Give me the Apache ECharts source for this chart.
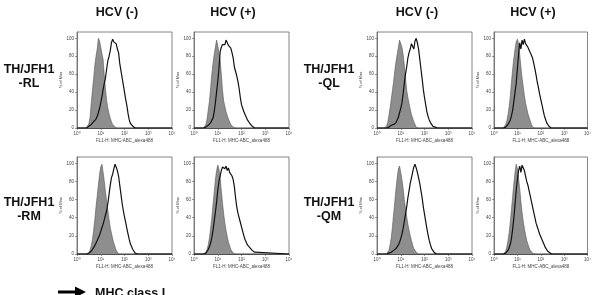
<!DOCTYPE html>
<html>
<head>
<meta charset="utf-8">
<script src="https://cdn.jsdelivr.net/npm/echarts@6/dist/echarts.min.js"></script>
<style>
  html, body { margin: 0; padding: 0; background: #fff; }
  #main { width: 594px; height: 295px; }
</style>
</head>
<body>
<div id="main"></div>
<script>
// x positions in decades (log10 of FL1-H), shared by every histogram
var LOG_X = [0, 0.30, 0.35, 0.40, 0.45, 0.50, 0.55, 0.60, 0.65, 0.70, 0.75, 0.80, 0.85, 0.90, 0.95,
  1.00, 1.05, 1.10, 1.15, 1.20, 1.25, 1.30, 1.35, 1.40, 1.45, 1.50, 1.55, 1.60, 1.65, 1.70, 1.75,
  1.80, 1.85, 1.90, 1.95, 2.00, 2.05, 2.10, 2.15, 2.20, 2.25, 2.30, 2.35, 2.40, 2.45, 2.50, 2.55, 2.60, 4];

var X_TICKS = ["10\u2070", "10\u00b9", "10\u00b2", "10\u00b3", "10\u2074"];
var COL_TITLES = ["HCV (-)", "HCV (+)", "HCV (-)", "HCV (+)"];
var ROW_LABELS = ["TH/JFH1\n-RL", "TH/JFH1\n-QL", "TH/JFH1\n-RM", "TH/JFH1\n-QM"];

// % of Max, isotype (grey) and MHC class I (black line)
var RL_NEG_ISO = [0,0,0,0,2,5,12,28,42,55,70,80,88,100,97,90,88,76,58,43,30,22,16,11,7,4,2,1,0,0,0,0,0,0,0,0,0,0,0,0,0,0,0,0,0,0,0,0,0];
var RL_NEG_MHC = [0,0,0,0,1,2,3,4,5,7,8,10,13,17,22,28,35,43,50,56,66,75,80,86,95,99,96,97,94,88,84,72,64,56,48,40,32,25,16,9,5,3,2,1,0,0,0,0,0];
var RL_POS_ISO = [0,0,0,0,1,4,10,20,30,45,60,72,82,90,98,92,84,76,60,42,30,24,18,14,10,7,4,2,1,0,0,0,0,0,0,0,0,0,0,0,0,0,0,0,0,0,0,0,0];
var RL_POS_MHC = [0,0,0,0,0,1,2,3,4,6,8,11,18,28,40,52,66,85,90,93,95,93,98,95,92,90,89,84,78,68,63,58,52,44,34,26,22,18,15,12,9,7,5,3,2,1,0,0,0];
var QL_NEG_ISO = [0,0,0,2,6,14,22,32,42,52,64,74,82,90,98,97,90,82,70,56,42,34,27,21,15,11,7,4,1,0,0,0,0,0,0,0,0,0,0,0,0,0,0,0,0,0,0,0,0];
var QL_NEG_MHC = [0,0,0,0,1,1,2,3,3,4,5,6,8,12,17,22,28,38,50,60,68,78,84,88,94,96,88,97,100,95,88,77,66,55,43,34,26,18,13,9,6,4,2,1,1,0,0,0,0];
var QL_POS_ISO = [0,0,0,0,1,4,8,15,24,36,52,66,78,88,96,99,94,82,68,56,46,36,28,22,16,12,8,4,1,0,0,0,0,0,0,0,0,0,0,0,0,0,0,0,0,0,0,0,0];
var QL_POS_MHC = [0,0,0,0,0,1,2,4,6,9,14,20,30,40,50,66,82,95,88,98,93,99,94,92,90,87,84,81,78,72,66,59,51,45,38,32,26,20,14,10,6,4,2,1,0,0,0,0,0];
var RM_NEG_ISO = [0,0,0,0,0,1,4,9,16,26,38,52,64,76,88,96,99,90,80,68,58,48,38,29,23,17,12,8,4,2,0,0,0,0,0,0,0,0,0,0,0,0,0,0,0,0,0,0,0];
var RM_NEG_MHC = [0,0,0,0,0,1,2,3,5,7,9,12,15,18,21,25,29,33,38,43,48,56,66,76,84,88,94,99,96,92,86,76,66,56,48,41,35,28,22,16,11,8,5,3,1,0,0,0,0];
var RM_POS_ISO = [0,0,0,0,0,2,5,10,18,28,40,54,68,82,92,98,94,84,70,56,44,34,26,19,13,9,5,3,1,0,0,0,0,0,0,0,0,0,0,0,0,0,0,0,0,0,0,0,0];
var RM_POS_MHC = [0,0,0,0,0,1,3,5,8,12,18,26,36,46,57,70,80,86,92,96,98,94,97,92,95,90,88,86,82,74,62,52,45,40,35,30,25,20,16,13,10,8,7,5,4,3,2,1,0];
var QM_NEG_ISO = [0,0,0,0,1,4,10,18,30,44,58,72,84,94,97,90,82,72,60,50,41,33,26,20,15,10,6,4,2,0,0,0,0,0,0,0,0,0,0,0,0,0,0,0,0,0,0,0,0];
var QM_NEG_MHC = [0,0,0,0,0,1,1,2,3,4,5,6,8,10,13,17,22,28,36,44,52,62,70,78,84,90,96,99,95,90,84,78,70,62,52,44,36,28,21,15,10,6,4,2,1,0,0,0,0];
var QM_POS_ISO = [0,0,0,0,1,3,8,15,24,36,50,64,78,90,99,94,84,72,58,46,36,28,21,15,11,7,4,2,1,0,0,0,0,0,0,0,0,0,0,0,0,0,0,0,0,0,0,0,0];
var QM_POS_MHC = [0,0,0,0,0,1,2,4,7,11,18,28,40,55,70,82,92,97,90,98,100,92,86,80,76,70,64,58,52,46,40,34,30,26,22,19,16,13,10,7,5,3,2,1,0,0,0,0,0];

var panels = [
  { left: 77, top: 32, height: 96, iso: RL_NEG_ISO, mhc: RL_NEG_MHC },
  { left: 194, top: 32, height: 96, iso: RL_POS_ISO, mhc: RL_POS_MHC },
  { left: 377, top: 32, height: 96, iso: QL_NEG_ISO, mhc: QL_NEG_MHC },
  { left: 494, top: 32, height: 96, iso: QL_POS_ISO, mhc: QL_POS_MHC },
  { left: 77, top: 157, height: 97, iso: RM_NEG_ISO, mhc: RM_NEG_MHC },
  { left: 194, top: 157, height: 97, iso: RM_POS_ISO, mhc: RM_POS_MHC },
  { left: 377, top: 157, height: 97, iso: QM_NEG_ISO, mhc: QM_NEG_MHC },
  { left: 494, top: 157, height: 97, iso: QM_POS_ISO, mhc: QM_POS_MHC }
];

function pairs(arr) {
  return LOG_X.map(function (x, i) { return [x, arr[i]]; });
}

var FONT = "Liberation Sans, Arial, sans-serif";
var grid = [], xAxis = [], yAxis = [], series = [];

panels.forEach(function (p, i) {
  grid.push({
    left: p.left, top: p.top, width: 95, height: p.height,
    show: true, borderColor: "#666", borderWidth: 0.8, backgroundColor: "#fff"
  });
  xAxis.push({
    type: "value", gridIndex: i, min: 0, max: 4, interval: 1,
    splitLine: { show: false },
    axisLine: { lineStyle: { color: "#333", width: 0.8 } },
    axisTick: { length: 2, lineStyle: { color: "#555", width: 0.6 } },
    axisLabel: {
      fontSize: 4.5, color: "#444", margin: 3, fontFamily: FONT,
      formatter: function (v) { return X_TICKS[v] || ""; }
    },
    name: "FL1-H: MHC-ABC_alexa488", nameLocation: "middle", nameGap: 10,
    nameTextStyle: { fontSize: 4.5, color: "#444", fontFamily: FONT }
  });
  yAxis.push({
    type: "value", gridIndex: i, min: 0, max: 107, interval: 20,
    splitLine: { show: false },
    axisLine: { show: true, lineStyle: { color: "#666", width: 0.8 } },
    axisTick: { show: true, length: 2, lineStyle: { color: "#555", width: 0.6 } },
    axisLabel: {
      fontSize: 4.5, color: "#444", margin: 3, fontFamily: FONT, showMaxLabel: false,
      formatter: function (v) { return v % 20 === 0 ? String(v) : ""; }
    },
    name: "% of Max", nameLocation: "middle", nameGap: 14, nameRotate: 90,
    nameTextStyle: { fontSize: 4, color: "#444", fontFamily: FONT }
  });
  // isotype control, filled grey
  series.push({
    type: "line", xAxisIndex: i, yAxisIndex: i, data: pairs(p.iso),
    symbol: "none", smooth: false, z: 2, silent: true,
    lineStyle: { color: "#555", width: 0.6 },
    areaStyle: { color: "#8e8e8e", opacity: 1 }
  });
  // MHC class I staining, open black line
  series.push({
    type: "line", xAxisIndex: i, yAxisIndex: i, data: pairs(p.mhc),
    symbol: "none", smooth: false, z: 3, silent: true,
    lineStyle: { color: "#111", width: 1.2 }
  });
});

var graphic = [];
[117, 233, 417, 533].forEach(function (x, i) {
  graphic.push({
    type: "text", x: x, y: 13,
    style: { text: COL_TITLES[i], font: "bold 12.5px " + FONT, fill: "#111", textAlign: "center", textVerticalAlign: "middle" }
  });
});
[[29, 77], [329, 77], [29, 210], [329, 210]].forEach(function (pos, i) {
  graphic.push({
    type: "text", x: pos[0], y: pos[1],
    style: { text: ROW_LABELS[i], font: "bold 12.5px " + FONT, lineHeight: 14, fill: "#111", textAlign: "center", textVerticalAlign: "middle" }
  });
});
// arrow + axis caption at the bottom
graphic.push({ type: "line", shape: { x1: 58, y1: 292, x2: 78, y2: 292 }, style: { stroke: "#000", lineWidth: 3 } });
graphic.push({ type: "polygon", shape: { points: [[75, 286.5], [86, 292], [75, 297.5]] }, style: { fill: "#000" } });
graphic.push({
  type: "text", x: 95, y: 294,
  style: { text: "MHC class I", font: "bold 12.5px " + FONT, fill: "#111", textAlign: "left", textVerticalAlign: "middle" }
});

var myChart = echarts.init(document.getElementById("main"));
myChart.setOption({
  backgroundColor: "#fff",
  animation: false,
  grid: grid,
  xAxis: xAxis,
  yAxis: yAxis,
  series: series,
  graphic: graphic
});
</script>
</body>
</html>
